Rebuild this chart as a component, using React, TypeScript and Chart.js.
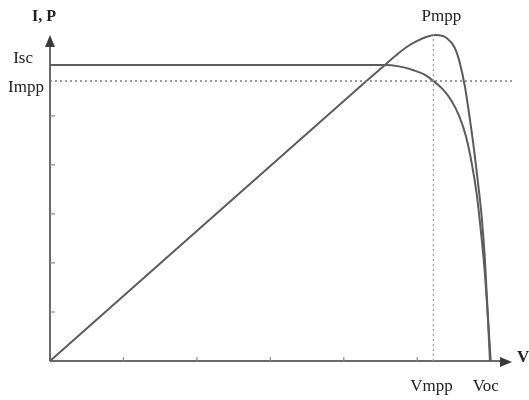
import React, { useEffect, useRef } from "react";
import { Chart, registerables } from "chart.js";

Chart.register(...registerables);

// I-V curve (voltage units, current units)
const currentV = [0, 4.3, 4.56, 4.75, 4.95, 5.1, 5.22, 5.35, 5.47, 5.57, 5.66, 5.74, 5.81, 5.87, 5.92, 5.96, 6.0];
const currentI = [6.04, 6.04, 6.04, 6.01, 5.93, 5.84, 5.71, 5.54, 5.3, 5.0, 4.6, 4.05, 3.4, 2.6, 1.8, 0.95, 0];

// P-V curve (scaled into same vertical units)
const powerV = [0, 4.3, 4.56, 4.7, 4.85, 5.0, 5.12, 5.25, 5.4, 5.51, 5.58, 5.65, 5.71, 5.77, 5.83, 5.88, 5.92, 5.955, 5.99];
const powerP = [0, 5.7, 6.04, 6.22, 6.4, 6.53, 6.61, 6.65, 6.59, 6.39, 6.08, 5.59, 5.0, 4.35, 3.6, 2.9, 2.1, 1.1, 0];

// Key values
const Isc = 6.04;
const Impp = 5.71;
const Vmpp = 5.22;
const Voc = 6.0;
const Pmpp = 6.65;

// Guide lines
const imppGuideV = [0, 6.32];
const vmppGuideY = [0, Pmpp];

// Axis ticks (unlabelled)
const xTicks = [1, 2, 3, 4, 5];
const yTicks = [1, 2, 3, 4, 5];

// Texts
const yAxisLabel = "I, P";
const xAxisLabel = "V";
const iscLabel = "Isc";
const imppLabel = "Impp";
const vmppLabel = "Vmpp";
const vocLabel = "Voc";
const pmppLabel = "Pmpp";

const X_MAX = 6.29;
const Y_MAX = 6.65;

const zip = (xs: number[], ys: number[]) => xs.map((x, i) => ({ x, y: ys[i] }));

const decorPlugin = {
  id: "decor",
  beforeDatasetsDraw(chart: any) {
    const { ctx, scales } = chart;
    const xs = scales.x;
    const ys = scales.y;
    const x0 = xs.getPixelForValue(0);
    const y0 = ys.getPixelForValue(0);
    const xEnd = xs.getPixelForValue(X_MAX);
    const yEnd = ys.getPixelForValue(Y_MAX);
    ctx.save();
    ctx.strokeStyle = "#6a6a6a";
    ctx.fillStyle = "#3a3a3a";
    ctx.lineWidth = 2;
    // axes
    ctx.beginPath();
    ctx.moveTo(x0, y0);
    ctx.lineTo(xEnd - 10, y0);
    ctx.moveTo(x0, y0);
    ctx.lineTo(x0, yEnd + 10);
    ctx.stroke();
    // arrowheads
    ctx.beginPath();
    ctx.moveTo(xEnd, y0 + 1);
    ctx.lineTo(xEnd - 12, y0 - 4);
    ctx.lineTo(xEnd - 12, y0 + 6);
    ctx.closePath();
    ctx.fill();
    ctx.beginPath();
    ctx.moveTo(x0, yEnd);
    ctx.lineTo(x0 - 5, yEnd + 12);
    ctx.lineTo(x0 + 5, yEnd + 12);
    ctx.closePath();
    ctx.fill();
    // ticks
    ctx.lineWidth = 1.2;
    ctx.strokeStyle = "#8a8a8a";
    ctx.beginPath();
    xTicks.forEach((t) => {
      const px = xs.getPixelForValue(t);
      ctx.moveTo(px, y0);
      ctx.lineTo(px, y0 - 4);
    });
    yTicks.forEach((t) => {
      const py = ys.getPixelForValue(t);
      ctx.moveTo(x0, py);
      ctx.lineTo(x0 + 5, py);
    });
    ctx.stroke();
    ctx.restore();
  },
  afterDraw(chart: any) {
    const { ctx, scales } = chart;
    const xs = scales.x;
    const ys = scales.y;
    const x0 = xs.getPixelForValue(0);
    const y0 = ys.getPixelForValue(0);
    ctx.save();
    ctx.fillStyle = "#222";
    ctx.textBaseline = "middle";
    ctx.font = "17px 'Liberation Serif', serif";
    ctx.textAlign = "right";
    ctx.fillText(iscLabel, x0 - 17, ys.getPixelForValue(Isc) - 6);
    ctx.fillText(imppLabel, x0 - 6, ys.getPixelForValue(Impp) + 6);
    ctx.textAlign = "center";
    ctx.fillText(vmppLabel, xs.getPixelForValue(Vmpp) - 2, y0 + 26);
    ctx.fillText(vocLabel, xs.getPixelForValue(Voc) - 5, y0 + 26);
    ctx.fillText(pmppLabel, xs.getPixelForValue(Vmpp) + 8, ys.getPixelForValue(Pmpp) - 18);
    ctx.font = "bold 16px 'Liberation Serif', serif";
    ctx.fillText(yAxisLabel, x0 - 6, 17);
    ctx.font = "bold 17px 'Liberation Serif', serif";
    ctx.textAlign = "left";
    ctx.fillText(xAxisLabel, xs.getPixelForValue(X_MAX) + 5, y0 - 3);
    ctx.restore();
  },
};

export default function App() {
  const ref = useRef<HTMLCanvasElement | null>(null);
  useEffect(() => {
    if (!ref.current) return;
    const lineBase = {
      showLine: true,
      pointRadius: 0,
      fill: false,
      clip: false as any,
    };
    const chart = new Chart(ref.current, {
      type: "scatter",
      data: {
        datasets: [
          {
            ...lineBase,
            label: "Impp guide",
            data: zip(imppGuideV, [Impp, Impp]),
            borderColor: "#7a7a7a",
            borderWidth: 1.5,
            borderDash: [2, 3],
          },
          {
            ...lineBase,
            label: "Vmpp guide",
            data: zip([Vmpp, Vmpp], vmppGuideY),
            borderColor: "#9a9a9a",
            borderWidth: 1.2,
            borderDash: [2, 3],
          },
          {
            ...lineBase,
            label: "I",
            data: zip(currentV, currentI),
            borderColor: "#5c5c5c",
            borderWidth: 2,
            cubicInterpolationMode: "monotone",
          },
          {
            ...lineBase,
            label: "P",
            data: zip(powerV, powerP),
            borderColor: "#5c5c5c",
            borderWidth: 2,
            cubicInterpolationMode: "monotone",
          },
        ] as any,
      },
      options: {
        animation: false,
        responsive: true,
        maintainAspectRatio: false,
        events: [],
        layout: { padding: { left: 50, right: 17, top: 35, bottom: 39 } },
        scales: {
          x: { type: "linear", min: 0, max: X_MAX, display: false },
          y: { type: "linear", min: 0, max: Y_MAX, display: false },
        },
        plugins: { legend: { display: false }, tooltip: { enabled: false } },
      },
      plugins: [decorPlugin],
    });
    return () => chart.destroy();
  }, []);
  return (
    <div style={{ position: "fixed", left: 0, top: 0, width: 529, height: 400, background: "#fff" }}>
      <canvas ref={ref} />
    </div>
  );
}
